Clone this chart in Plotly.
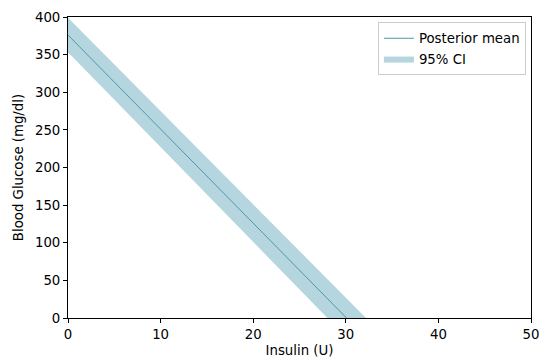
import plotly.graph_objects as go

insulin = [0, 10, 20, 30, 40, 50]
post_mean = [376, 251, 126, 1, -124, -249]
ci_lower = [353, 227, 101, -25, -151, -277]
ci_upper = [399, 275, 151, 27, -97, -221]

band_color = "rgb(181,214,223)"
line_color = "rgb(74,152,172)"
FS = 13.3

fig = go.Figure()
fig.add_trace(go.Scatter(
    x=insulin + insulin[::-1],
    y=ci_upper + ci_lower[::-1],
    fill="toself", fillcolor=band_color, line=dict(width=0, color=band_color),
    mode="lines", name="95% CI", hoverinfo="skip"))
fig.add_trace(go.Scatter(
    x=insulin, y=post_mean, mode="lines",
    line=dict(color=line_color, width=1), name="Posterior mean"))

axis_common = dict(
    showgrid=False, zeroline=False, showline=True, linecolor="black", linewidth=1,
    mirror=True, ticks="outside", ticklen=4, tickcolor="black", automargin=False,
    tickfont=dict(family="DejaVu Sans", size=FS, color="black"),
)
fig.update_xaxes(range=[0, 50], tickvals=[0, 10, 20, 30, 40, 50],
                 title=dict(text="Insulin (U)", font=dict(family="DejaVu Sans", size=FS, color="black"), standoff=4),
                 **axis_common)
fig.update_yaxes(range=[0, 400], tickvals=[0, 50, 100, 150, 200, 250, 300, 350, 400],
                 title=dict(text="Blood Glucose (mg/dl)", font=dict(family="DejaVu Sans", size=FS, color="black"), standoff=8),
                 **axis_common)
fig.update_layout(
    width=543, height=362,
    margin=dict(l=68, r=12, t=17, b=44),
    plot_bgcolor="white", paper_bgcolor="white",
    font=dict(family="DejaVu Sans", size=FS, color="black"),
    legend=dict(x=0.989, y=0.983, xanchor="right", yanchor="top",
                bgcolor="white", bordercolor="#cccccc", borderwidth=1,
                traceorder="reversed", font=dict(size=FS)),
)
fig.write_html("out.html", config={"displayModeBar": False},
               post_script="document.body.style.margin='0';")
